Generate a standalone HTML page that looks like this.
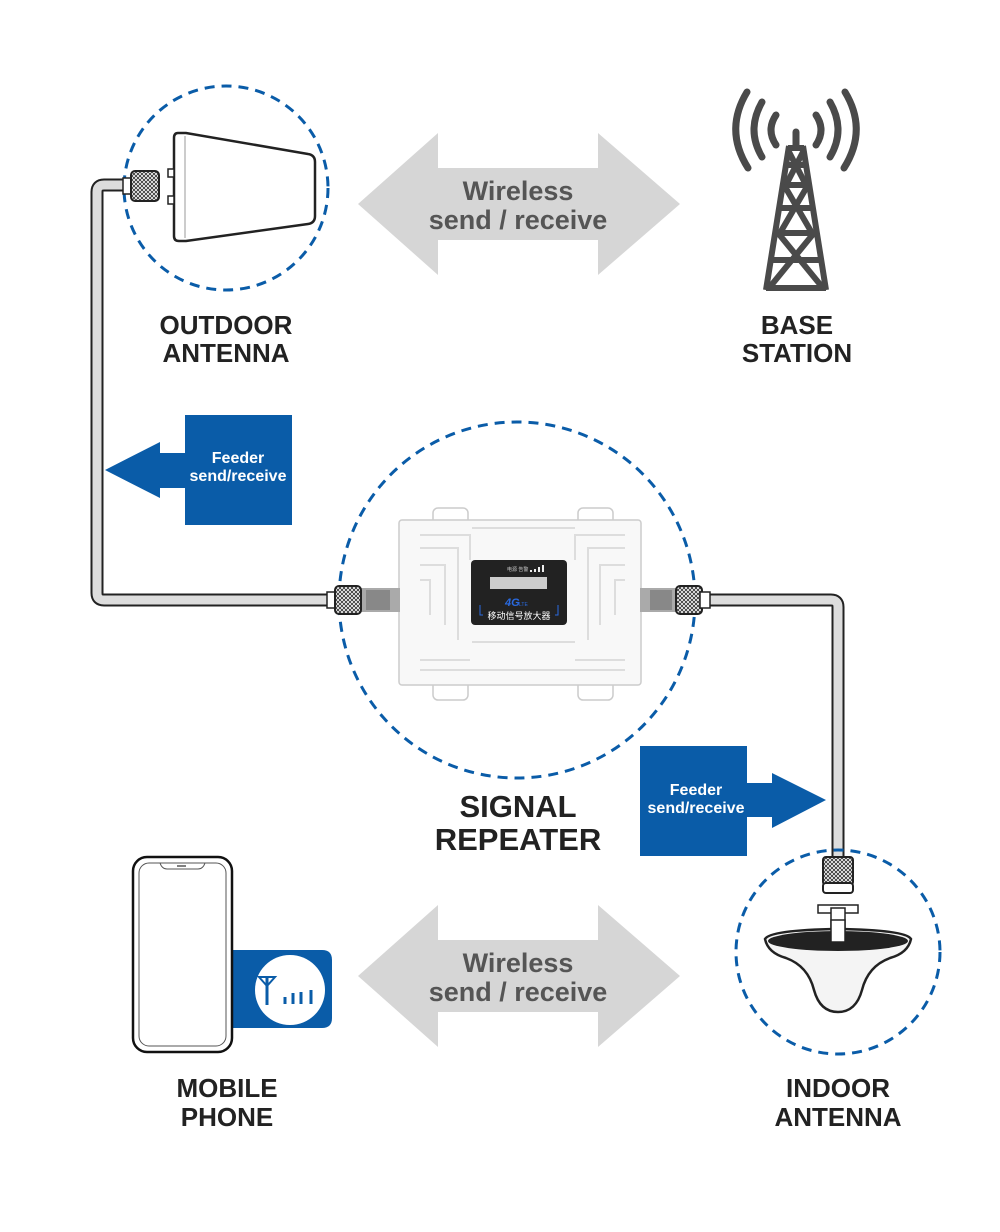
<!DOCTYPE html>
<html><head><meta charset="utf-8"><style>
html,body{margin:0;padding:0;background:#fff;width:1000px;height:1232px;overflow:hidden}
svg{display:block}
text{font-family:"Liberation Sans","Noto Sans CJK SC",sans-serif}
</style></head><body>
<svg width="1000" height="1232" viewBox="0 0 1000 1232" xmlns="http://www.w3.org/2000/svg">
<defs>
<pattern id="knurl" width="4" height="4" patternUnits="userSpaceOnUse">
<rect width="4" height="4" fill="#fff"/><path d="M0 0L4 4M4 0L0 4" stroke="#333" stroke-width="0.9"/>
</pattern>
</defs>
<!-- cables -->
<path d="M128 185 H104 Q97 185 97 192 V593 Q97 600 104 600 H335" fill="none" stroke="#222" stroke-width="13"/>
<path d="M128 185 H104 Q97 185 97 192 V593 Q97 600 104 600 H335" fill="none" stroke="#ddd" stroke-width="9"/>
<path d="M700 600 H831 Q838 600 838 607 V862" fill="none" stroke="#222" stroke-width="13"/>
<path d="M700 600 H831 Q838 600 838 607 V862" fill="none" stroke="#ddd" stroke-width="9"/>

<!-- dashed circles -->
<circle cx="226" cy="188" r="102" fill="none" stroke="#0a5ca8" stroke-width="3" stroke-dasharray="10 7"/>
<circle cx="517" cy="600" r="178" fill="none" stroke="#0a5ca8" stroke-width="3" stroke-dasharray="10 7"/>
<circle cx="838" cy="952" r="102" fill="none" stroke="#0a5ca8" stroke-width="3" stroke-dasharray="10 7"/>

<!-- outdoor antenna -->
<path d="M178 133 Q174 133 174 138 V236 Q174 241 179 241 L186 241 L308 224 Q315 223 315 216 V162 Q315 155 308 154 L186 133 Z" fill="#fff" stroke="#222" stroke-width="2.5"/>
<line x1="185" y1="136" x2="185" y2="238" stroke="#ccc" stroke-width="2"/>
<rect x="168" y="169" width="6" height="8" fill="#fff" stroke="#222" stroke-width="1.5"/>
<rect x="168" y="196" width="6" height="8" fill="#fff" stroke="#222" stroke-width="1.5"/>
<rect x="123" y="178" width="10" height="16" fill="#fff" stroke="#222" stroke-width="1.5"/>
<rect x="131" y="171" width="28" height="30" rx="4" fill="url(#knurl)" stroke="#222" stroke-width="2"/>

<!-- base station -->
<g fill="none" stroke="#4a4a4a" stroke-width="7" stroke-linecap="round">
<path d="M776 115 Q766 130 776 145"/><path d="M816 115 Q826 130 816 145"/>
<path d="M762 102 Q746 130 762 157"/><path d="M830 102 Q846 130 830 157"/>
<path d="M747 92 Q724 130 748 168"/><path d="M845 92 Q868 130 844 168"/>
<line x1="796" y1="132" x2="796" y2="146"/>
</g>
<g fill="none" stroke="#4a4a4a" stroke-width="6">
<path d="M789 146 L766 290 M803 146 L826 290"/>
<path d="M788 148 H804 M786 165 H806 M783 185 H809 M779 208 H813 M775 233 H817 M771 260 H821 M766 288 H826"/>
<path d="M788 150 L806 185 M804 150 L786 185 M784 185 L812 233 M808 185 L780 233 M778 233 L823 288 M814 233 L769 288"/>
</g>

<!-- gray double arrows -->
<path d="M358 204 L438 133 V168 H598 V133 L680 204 L598 275 V240 H438 V275 Z" fill="#d6d6d6"/>
<path d="M358 976 L438 905 V940 H598 V905 L680 976 L598 1047 V1012 H438 V1047 Z" fill="#d6d6d6"/>
<g font-size="27" fill="#555" text-anchor="middle" font-weight="bold">
<text x="518" y="200">Wireless</text><text x="518" y="229">send / receive</text>
<text x="518" y="972">Wireless</text><text x="518" y="1001">send / receive</text>
</g>

<!-- labels -->
<g font-size="26" fill="#222" text-anchor="middle" font-weight="bold">
<text x="226" y="334">OUTDOOR</text><text x="226" y="362">ANTENNA</text>
<text x="797" y="334">BASE</text><text x="797" y="362">STATION</text>
<text x="227" y="1097">MOBILE</text><text x="227" y="1126">PHONE</text>
<text x="838" y="1097">INDOOR</text><text x="838" y="1126">ANTENNA</text>
</g>
<g font-size="31" fill="#222" text-anchor="middle" font-weight="bold">
<text x="518" y="817">SIGNAL</text><text x="518" y="850">REPEATER</text>
</g>

<!-- feeder arrows -->
<rect x="185" y="415" width="107" height="110" fill="#0a5ca8"/>
<path d="M105 470 L160 442 V453 H186 V488 H160 V498 Z" fill="#0a5ca8"/>
<rect x="640" y="746" width="107" height="110" fill="#0a5ca8"/>
<path d="M826 800 L772 773 V783 H746 V817 H772 V828 Z" fill="#0a5ca8"/>
<g font-size="16" fill="#fff" text-anchor="middle" font-weight="bold">
<text x="238" y="463">Feeder</text><text x="238" y="481">send/receive</text>
<text x="696" y="795">Feeder</text><text x="696" y="813">send/receive</text>
</g>

<!-- repeater -->
<g fill="#fff" stroke="#ccc" stroke-width="1.5">
<rect x="433" y="508" width="35" height="20" rx="5"/><rect x="578" y="508" width="35" height="20" rx="5"/>
<rect x="433" y="680" width="35" height="20" rx="5"/><rect x="578" y="680" width="35" height="20" rx="5"/>
<rect x="399" y="520" width="242" height="165" rx="3" fill="#f8f8f8"/>
</g>
<g fill="none" stroke="#ddd" stroke-width="2">
<path d="M420 535 H470 V560 M625 535 H575 V560"/>
<path d="M420 548 H458 V640 M625 548 H588 V640"/>
<path d="M420 565 H445 V625 M625 565 H600 V625"/>
<path d="M420 580 H430 V615 M625 580 H615 V615"/>
<path d="M420 670 H625 M420 660 H470 M575 660 H625"/>
<path d="M472 528 H575 M472 642 H575"/>
</g>
<rect x="471" y="560" width="96" height="65" rx="4" fill="#222"/>
<rect x="490" y="577" width="57" height="12" fill="#ccc"/>
<text x="507" y="571" font-size="5" fill="#ccc">电源 告警</text>
<path d="M530 572 h2 v-2 h-2z M534 572 h2 v-3 h-2z M538 572 h2 v-5 h-2z M542 572 h2 v-7 h-2z" fill="#eee"/>
<text x="505" y="606" font-size="11" font-weight="bold" font-style="italic" fill="#2a6ae0">4G</text>
<text x="519" y="606" font-size="5" fill="#2a6ae0">LTE</text>
<text x="519" y="619" font-size="9" fill="#fff" text-anchor="middle">移动信号放大器</text>
<path d="M480 605 v10 h3 M558 605 v10 h-3" stroke="#2a6ae0" fill="none"/>
<!-- left connectors -->
<rect x="360" y="588" width="40" height="24" fill="#aaa"/>
<rect x="366" y="590" width="24" height="20" fill="#888"/>
<rect x="327" y="592" width="10" height="16" fill="#fff" stroke="#222" stroke-width="1.5"/>
<rect x="335" y="586" width="26" height="28" rx="4" fill="url(#knurl)" stroke="#222" stroke-width="2"/>
<!-- right connectors -->
<rect x="640" y="588" width="36" height="24" fill="#aaa"/>
<rect x="650" y="590" width="22" height="20" fill="#888"/>
<rect x="676" y="586" width="26" height="28" rx="4" fill="url(#knurl)" stroke="#222" stroke-width="2"/>
<rect x="700" y="592" width="10" height="16" fill="#fff" stroke="#222" stroke-width="1.5"/>

<!-- indoor antenna -->
<rect x="823" y="857" width="30" height="28" rx="3" fill="url(#knurl)" stroke="#222" stroke-width="2"/>
<rect x="823" y="883" width="30" height="10" rx="3" fill="#fff" stroke="#222" stroke-width="2"/>
<path d="M818 905 h40 v8 h-40z" fill="#fff" stroke="#222" stroke-width="1.5"/>
<rect x="831" y="908" width="14" height="34" fill="#fff" stroke="#222" stroke-width="1.5"/>
<path d="M765 939 Q770 930 838 929 Q906 930 911 939 Q908 953 890 958 Q868 966 862 990 Q856 1012 838 1012 Q820 1012 814 990 Q808 966 786 958 Q768 953 765 939 Z" fill="#f4f4f4" stroke="#222" stroke-width="2.5"/>
<ellipse cx="838" cy="941" rx="70" ry="10" fill="#222"/>
<rect x="831" y="920" width="14" height="22" fill="#fff" stroke="#222" stroke-width="1.5"/>

<!-- phone -->
<path d="M232 950 H322 Q332 950 332 960 V1018 Q332 1028 322 1028 H232 Z" fill="#0a5ca8"/>
<circle cx="290" cy="990" r="35" fill="#fff"/>
<g stroke="#0a5ca8" stroke-width="3" fill="none">
<path d="M259 977 L267 986 L275 977 Z" stroke-width="2"/><line x1="267" y1="978" x2="267" y2="1005"/>
<line x1="285" y1="997" x2="285" y2="1004"/><line x1="293" y1="993" x2="293" y2="1004"/>
<line x1="301" y1="992" x2="301" y2="1004"/><line x1="311" y1="990" x2="311" y2="1004"/>
</g>
<rect x="133" y="857" width="99" height="195" rx="14" fill="#fff" stroke="#111" stroke-width="2.5"/>
<rect x="139" y="863" width="87" height="183" rx="10" fill="#fff" stroke="#555" stroke-width="1"/>
<path d="M160 863 Q162 869 167 869 H198 Q203 869 205 863" fill="none" stroke="#555" stroke-width="1"/>
<line x1="177" y1="866" x2="186" y2="866" stroke="#555" stroke-width="1.5"/>
</svg>
</body></html>
